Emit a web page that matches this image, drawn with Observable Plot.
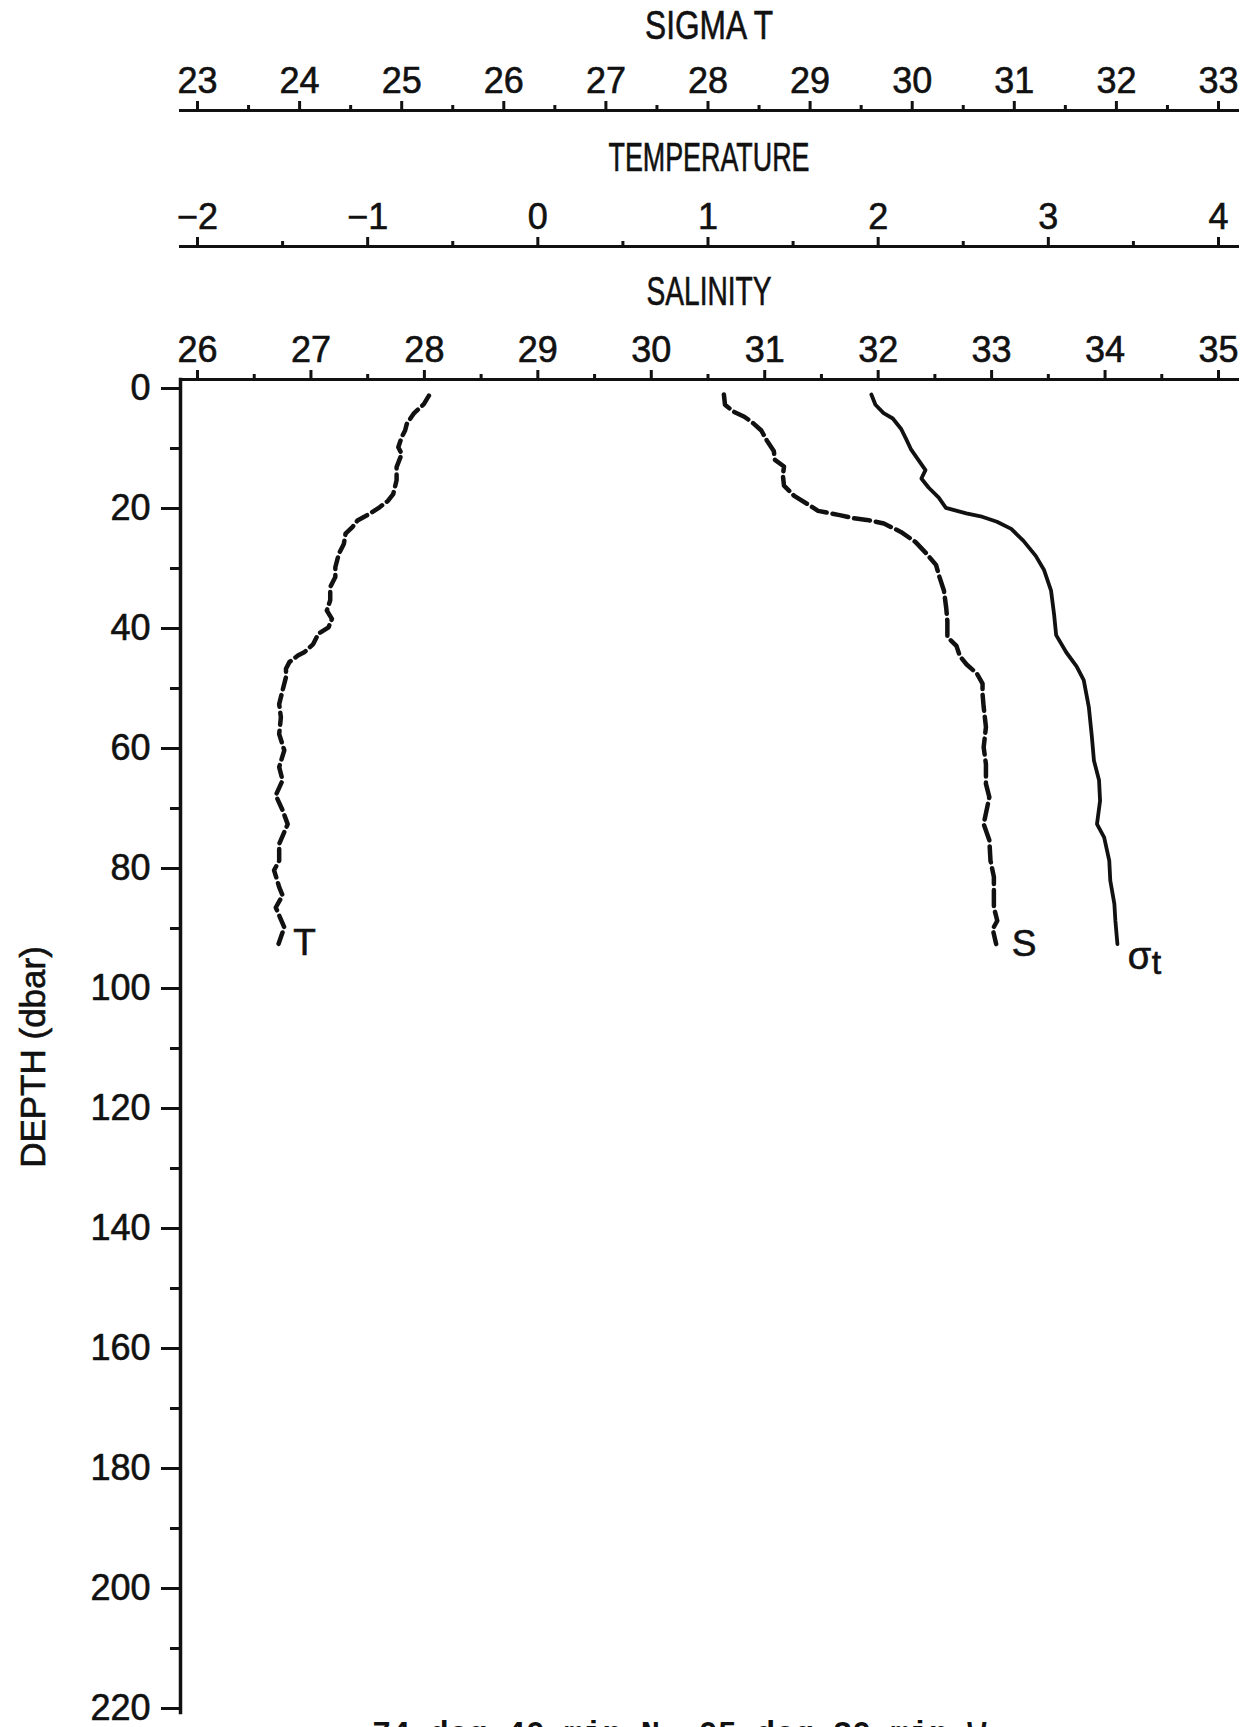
<!DOCTYPE html>
<html>
<head>
<meta charset="utf-8">
<script src="https://cdn.jsdelivr.net/npm/d3@7"></script>
<script src="https://cdn.jsdelivr.net/npm/@observablehq/plot@0.6"></script>
<style>
  html, body { margin: 0; padding: 0; background: #fff; }
  body { width: 1254px; height: 1727px; overflow: hidden; position: relative; }
  svg { display: block; }
  svg text { stroke: #111; stroke-width: 0.6px; }
  #caption { position: absolute; left: 372px; top: 1716px; font: bold 32px "Liberation Mono", "DejaVu Sans Mono", monospace; white-space: pre; color: #111; }
</style>
</head>
<body>
<div id="chart"></div>
<div id="caption"></div>
<script>
// ---------- texts ----------
const axisTitles = ["SIGMA T", "TEMPERATURE", "SALINITY"];
const yTitle = "DEPTH (dbar)";
const captionText = "74 deg 40 min N  05 deg 30 min W";
const curveLabels = ["T", "S", "σ", "t"];

// ---------- tick labels ----------
const sigmaTicks = [23, 24, 25, 26, 27, 28, 29, 30, 31, 32, 33];
const tempTicks = [-2, -1, 0, 1, 2, 3, 4];
const salTicks = [26, 27, 28, 29, 30, 31, 32, 33, 34, 35];
const depthTicks = [0, 20, 40, 60, 80, 100, 120, 140, 160, 180, 200, 220];

// ---------- temperature profile ----------
const tDepth = [1.2, 2.6, 4.2, 5.9, 7.0, 8.1, 9.8, 10.9, 13.1, 15.3, 17.6, 18.7, 19.8, 20.9, 22.0, 23.1, 24.2, 25.9, 27.6, 29.8, 31.4, 33.1, 35.3, 37.0, 38.4, 39.8, 40.9, 42.6, 43.9, 44.5, 45.6, 46.7, 48.1, 50.3, 52.6, 54.8, 57.6, 60.3, 63.1, 65.3, 67.8, 70.3, 72.6, 75.9, 78.7, 80.3, 83.1, 84.5, 86.5, 89.8, 93.1];
const tValue = [-0.64, -0.67, -0.73, -0.77, -0.78, -0.80, -0.82, -0.80, -0.83, -0.83, -0.85, -0.88, -0.93, -0.99, -1.06, -1.09, -1.13, -1.14, -1.17, -1.19, -1.19, -1.22, -1.22, -1.24, -1.21, -1.23, -1.29, -1.32, -1.37, -1.41, -1.46, -1.48, -1.48, -1.50, -1.52, -1.51, -1.52, -1.49, -1.52, -1.50, -1.54, -1.50, -1.47, -1.52, -1.52, -1.55, -1.52, -1.50, -1.54, -1.49, -1.53];

// ---------- salinity profile ----------
const sDepth = [1.0, 2.7, 3.8, 4.7, 5.8, 7.0, 8.7, 10.4, 11.9, 13.0, 14.5, 16.2, 17.9, 19.3, 20.4, 21.1, 21.6, 21.9, 22.5, 23.9, 25.6, 27.4, 29.4, 31.4, 33.7, 36.6, 38.8, 41.4, 42.9, 44.6, 46.0, 47.5, 49.2, 50.9, 53.1, 56.4, 59.8, 62.6, 65.9, 68.1, 72.6, 75.3, 78.7, 81.4, 83.7, 86.5, 88.7, 90.1, 92.6];
const sValue = [30.64, 30.65, 30.72, 30.82, 30.90, 30.97, 31.02, 31.08, 31.09, 31.17, 31.16, 31.17, 31.26, 31.38, 31.47, 31.66, 31.78, 31.90, 32.05, 32.20, 32.33, 32.42, 32.51, 32.54, 32.58, 32.60, 32.61, 32.61, 32.69, 32.72, 32.78, 32.87, 32.92, 32.92, 32.93, 32.95, 32.93, 32.95, 32.95, 32.98, 32.93, 32.98, 32.99, 33.02, 33.02, 33.02, 33.05, 33.01, 33.04];

// ---------- sigma-t profile ----------
const stDepth = [1.0, 2.7, 4.1, 5.0, 6.7, 8.4, 10.2, 11.9, 13.6, 15.0, 16.5, 18.2, 19.9, 20.8, 21.3, 22.2, 23.4, 25.4, 27.9, 30.2, 33.7, 37.7, 41.1, 44.0, 46.3, 48.6, 53.1, 58.1, 62.0, 65.3, 68.7, 72.6, 74.8, 78.7, 82.0, 85.9, 88.7, 92.6];
const stValue = [29.60, 29.64, 29.72, 29.81, 29.89, 29.94, 29.99, 30.06, 30.13, 30.09, 30.16, 30.26, 30.33, 30.53, 30.67, 30.83, 30.97, 31.09, 31.21, 31.29, 31.36, 31.39, 31.41, 31.51, 31.61, 31.68, 31.73, 31.76, 31.78, 31.83, 31.84, 31.81, 31.88, 31.93, 31.94, 31.98, 31.99, 32.01];

// ---------- layout / style ----------
const W = 1254;
const ML = 180, MR = 17, IL = 17, IR = 19;
const INK = "#111";
const baseStyle = {fontFamily: '"Liberation Sans", Arial, sans-serif', fontSize: "36px", color: INK, background: "white", overflow: "visible"};
const titleWidths = [128, 201, 125];

const table = (ds, vs) => ds.map((d, i) => ({depth: d, value: vs[i]}));
const tData = table(tDepth, tValue);
const sData = table(sDepth, sValue);
const stData = table(stDepth, stValue);

const lo = a => a[0], hi = a => a[a.length - 1];
const halves = a => d3.range(lo(a) + 0.5, hi(a), 1);
// secondary axes share the same pixel span as salinity
const tempToSal = d3.scaleLinear([lo(tempTicks), hi(tempTicks)], [lo(salTicks), hi(salTicks)]);
const sigToSal = d3.scaleLinear([lo(sigmaTicks), hi(sigmaTicks)], [lo(salTicks), hi(salTicks)]);
const intFormat = d3.format("d");

function topAxisMarks(ticks, title, titleDy) {
  return [
    Plot.frame({anchor: "top", strokeWidth: 3, stroke: INK}),
    Plot.axisX({anchor: "top", ticks, tickSize: 10, tickPadding: 8, tickFormat: intFormat, strokeWidth: 3, label: null}),
    Plot.axisX({anchor: "top", ticks: halves(ticks), tickSize: 6, tickFormat: () => "", strokeWidth: 3, label: null}),
    Plot.text([title], {frameAnchor: "top", dy: titleDy, lineAnchor: "middle", textAnchor: "middle", fontSize: 40, fill: INK})
  ];
}

function topAxis(ticks, title, height, marginTop, titleDy) {
  return Plot.plot({
    width: W, height, marginTop, marginBottom: 0, marginLeft: ML, marginRight: MR,
    x: {domain: [lo(ticks), hi(ticks)], insetLeft: IL, insetRight: IR},
    style: baseStyle,
    marks: topAxisMarks(ticks, title, titleDy)
  });
}

const sigmaAxis = topAxis(sigmaTicks, axisTitles[0], 130, 110, -84);
const tempAxis = topAxis(tempTicks, axisTitles[1], 132, 116, -88);

const main = Plot.plot({
  width: W, height: 1454, marginTop: 117, marginBottom: 4, marginLeft: ML, marginRight: MR,
  x: {domain: [lo(salTicks), hi(salTicks)], insetLeft: IL, insetRight: IR},
  y: {domain: [0, 220], reverse: true, insetTop: 9, insetBottom: 4},
  style: baseStyle,
  marks: [
    ...topAxisMarks(salTicks, axisTitles[2], -87),
    Plot.frame({anchor: "left", strokeWidth: 3.5, stroke: INK}),
    Plot.axisY({anchor: "left", ticks: depthTicks, tickSize: 19, tickPadding: 11, tickFormat: intFormat, strokeWidth: 3, label: null}),
    Plot.axisY({anchor: "left", ticks: d3.range(10, 220, 20), tickSize: 10, tickFormat: () => "", strokeWidth: 3, label: null}),
    Plot.text([yTitle], {frameAnchor: "left", rotate: -90, dx: -147, dy: 11, lineAnchor: "middle", textAnchor: "middle", fontSize: 35, fill: INK}),
    // profiles
    Plot.line(tData, {x: d => tempToSal(d.value), y: "depth", stroke: INK, strokeWidth: 4.5, strokeDasharray: "12,6", strokeLinecap: "round", strokeLinejoin: "round"}),
    Plot.line(sData, {x: "value", y: "depth", stroke: INK, strokeWidth: 4.5, strokeDasharray: "16,6", strokeLinecap: "round", strokeLinejoin: "round"}),
    Plot.line(stData, {x: d => sigToSal(d.value), y: "depth", stroke: INK, strokeWidth: 3.8, strokeLinecap: "round", strokeLinejoin: "round"}),
    // curve labels at the ends of the profiles
    Plot.text([tData[tData.length - 1]], {x: d => tempToSal(d.value), y: "depth", text: () => curveLabels[0], dx: 27, dy: -4, fontSize: 37, fill: INK}),
    Plot.text([sData[sData.length - 1]], {x: "value", y: "depth", text: () => curveLabels[1], dx: 28, dy: 0, fontSize: 37, fill: INK}),
    Plot.text([stData[stData.length - 1]], {x: d => sigToSal(d.value), y: "depth", text: () => curveLabels[2], dx: 22, dy: 13, fontSize: 38, fill: INK}),
    Plot.text([stData[stData.length - 1]], {x: d => sigToSal(d.value), y: "depth", text: () => curveLabels[3], dx: 39, dy: 19, fontSize: 34, fill: INK})
  ]
});

const holder = document.getElementById("chart");
holder.append(sigmaAxis, tempAxis, main);
document.getElementById("caption").textContent = captionText;

// condensed look for the axis titles
document.querySelectorAll("text").forEach(t => {
  const i = axisTitles.indexOf(t.textContent);
  if (i >= 0) {
    t.setAttribute("textLength", titleWidths[i]);
    t.setAttribute("lengthAdjust", "spacingAndGlyphs");
  }
});
</script>
</body>
</html>
